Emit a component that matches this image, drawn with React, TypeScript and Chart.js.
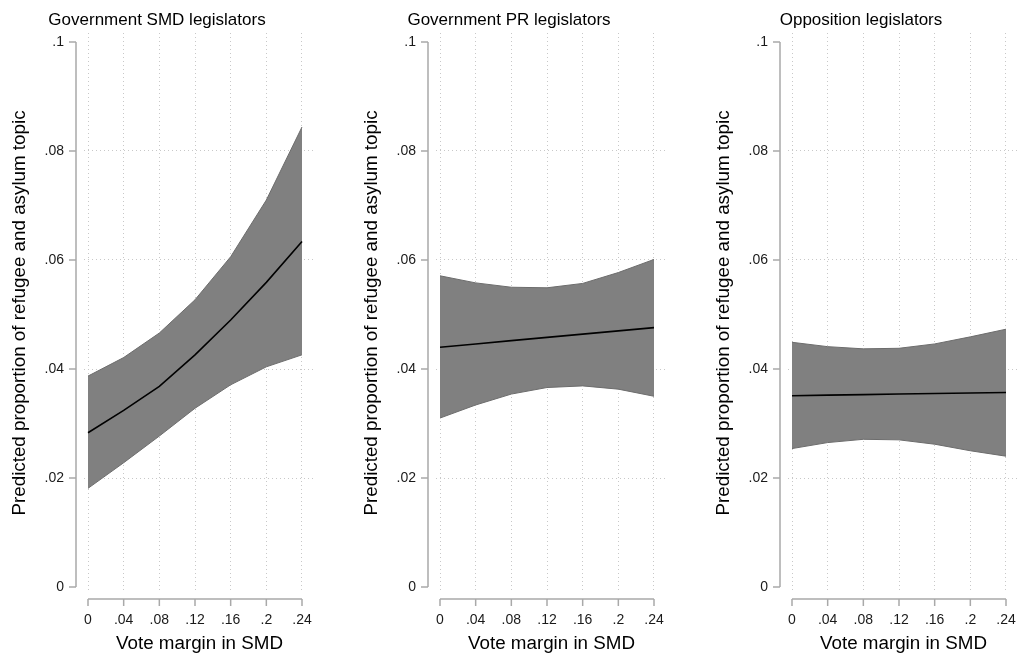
import React, { useEffect, useRef } from 'react';
import { Chart, registerables } from 'chart.js';

Chart.register(...registerables);

// ---- data ----
const xValues = [0, 0.04, 0.08, 0.12, 0.16, 0.2, 0.24];
const xTickValues = [0, 0.04, 0.08, 0.12, 0.16, 0.2, 0.24];
const xTickLabels = ['0', '.04', '.08', '.12', '.16', '.2', '.24'];
const yTickValues = [0, 0.02, 0.04, 0.06, 0.08, 0.1];
const yTickLabels = ['0', '.02', '.04', '.06', '.08', '.1'];

const panelTitles = ['Government SMD legislators', 'Government PR legislators', 'Opposition legislators'];
const xAxisTitle = 'Vote margin in SMD';
const yAxisTitle = 'Predicted proportion of refugee and asylum topic';

const smdFit = [0.0283, 0.0324, 0.0368, 0.0426, 0.049, 0.0559, 0.0634];
const smdUpper = [0.0387, 0.0421, 0.0466, 0.0527, 0.0606, 0.071, 0.0844];
const smdLower = [0.0181, 0.0228, 0.0277, 0.0328, 0.0371, 0.0404, 0.0426];

const prFit = [0.044, 0.0446, 0.0452, 0.0458, 0.0464, 0.047, 0.0476];
const prUpper = [0.0571, 0.0558, 0.055, 0.0549, 0.0557, 0.0577, 0.0601];
const prLower = [0.031, 0.0334, 0.0354, 0.0366, 0.0369, 0.0363, 0.035];

const oppFit = [0.0351, 0.0352, 0.0353, 0.0354, 0.0355, 0.0356, 0.0357];
const oppUpper = [0.0449, 0.0441, 0.0437, 0.0438, 0.0446, 0.0459, 0.0473];
const oppLower = [0.0254, 0.0265, 0.0271, 0.027, 0.0262, 0.025, 0.024];

const panels = [
  { title: panelTitles[0], fit: smdFit, upper: smdUpper, lower: smdLower },
  { title: panelTitles[1], fit: prFit, upper: prUpper, lower: prLower },
  { title: panelTitles[2], fit: oppFit, upper: oppUpper, lower: oppLower },
];

const FONT = 'Liberation Sans, Arial, Helvetica, sans-serif';
const CANVAS_W = 352;
const CANVAS_H = 664;
const PANEL_STEP = 352;
const PANEL_OFFSET = -19;

const toPts = (arr: number[]) => xValues.map((x, i) => ({ x, y: arr[i] }));

const stataAxes = {
  id: 'stataAxes',
  afterDraw(chart: any) {
    const { ctx, chartArea } = chart;
    const xs = chart.scales.x;
    const ys = chart.scales.y;
    ctx.save();
    ctx.strokeStyle = '#a9a9a9';
    ctx.lineWidth = 1.5;
    // y axis
    const ax = chartArea.left - 8;
    ctx.beginPath();
    ctx.moveTo(ax, ys.getPixelForValue(yTickValues[0]));
    ctx.lineTo(ax, ys.getPixelForValue(yTickValues[yTickValues.length - 1]));
    yTickValues.forEach((v) => {
      const py = ys.getPixelForValue(v);
      ctx.moveTo(ax, py);
      ctx.lineTo(ax - 7, py);
    });
    // x axis
    const ay = chartArea.bottom + 6;
    ctx.moveTo(xs.getPixelForValue(xTickValues[0]), ay);
    ctx.lineTo(xs.getPixelForValue(xTickValues[xTickValues.length - 1]), ay);
    xTickValues.forEach((v) => {
      const px = xs.getPixelForValue(v);
      ctx.moveTo(px, ay);
      ctx.lineTo(px, ay + 7);
    });
    ctx.stroke();
    ctx.restore();
  },
};

function Panel({ idx }: { idx: number }) {
  const ref = useRef<HTMLCanvasElement | null>(null);
  useEffect(() => {
    const p = panels[idx];
    const chart = new Chart(ref.current as HTMLCanvasElement, {
      type: 'line',
      data: {
        datasets: [
          {
            data: toPts(p.fit),
            borderColor: '#000000',
            borderWidth: 1.6,
            pointRadius: 0,
            fill: false,
            tension: 0,
          },
          {
            data: toPts(p.upper),
            borderColor: '#6c6c6c',
            borderWidth: 1,
            backgroundColor: '#808080',
            pointRadius: 0,
            fill: '+1',
            tension: 0,
          },
          {
            data: toPts(p.lower),
            borderColor: '#6c6c6c',
            borderWidth: 1,
            pointRadius: 0,
            fill: false,
            tension: 0,
          },
        ],
      },
      options: {
        responsive: false,
        animation: false,
        events: [],
        layout: { padding: { left: 18, right: 18, top: 0, bottom: 0 } },
        plugins: {
          legend: { display: false },
          tooltip: { enabled: false },
          filler: { drawTime: 'beforeDatasetsDraw' },
          title: {
            display: true,
            text: p.title,
            color: '#000000',
            font: { family: FONT, size: 17, weight: 'normal' },
            padding: { top: 10, bottom: 2.6 },
          },
        },
        scales: {
          x: {
            type: 'linear',
            min: -0.00449,
            max: 0.25458,
            afterBuildTicks: (scale: any) => {
              scale.ticks = xTickValues.map((v) => ({ value: v }));
            },
            afterFit: (scale: any) => {
              scale.height = 71;
            },
            ticks: {
              autoSkip: false,
              maxRotation: 0,
              minRotation: 0,
              padding: 19,
              color: '#1a1a1a',
              font: { family: FONT, size: 14 },
              callback: (_v: any, i: number) => xTickLabels[i],
            },
            grid: {
              color: '#c8c8c8',
              lineWidth: 1,
              drawTicks: false,
            },
            border: { display: false, dash: [1, 3] },
            title: {
              display: true,
              text: xAxisTitle,
              color: '#000000',
              font: { family: FONT, size: 18.8 },
              padding: { top: 0, bottom: 8.5 },
            },
          },
          y: {
            type: 'linear',
            min: -0.0011,
            max: 0.10165,
            afterBuildTicks: (scale: any) => {
              scale.ticks = yTickValues.map((v) => ({ value: v }));
            },
            afterFit: (scale: any) => {
              scale.width = 85;
            },
            ticks: {
              autoSkip: false,
              padding: 20,
              color: '#1a1a1a',
              font: { family: FONT, size: 14 },
              callback: (_v: any, i: number) => yTickLabels[i],
            },
            grid: {
              color: (c: any) => {
                const v = c.tick ? c.tick.value : null;
                return v === yTickValues[0] || v === yTickValues[yTickValues.length - 1]
                  ? 'rgba(0,0,0,0)'
                  : '#c8c8c8';
              },
              lineWidth: 1,
              drawTicks: false,
            },
            border: { display: false, dash: [1, 3] },
            title: {
              display: true,
              text: yAxisTitle,
              color: '#000000',
              font: { family: FONT, size: 18.8 },
              padding: { top: 9.5, bottom: 0 },
            },
          },
        },
      } as any,
      plugins: [stataAxes],
    });
    return () => chart.destroy();
  }, [idx]);
  return (
    <canvas
      ref={ref}
      width={CANVAS_W}
      height={CANVAS_H}
      style={{
        position: 'absolute',
        top: 0,
        left: PANEL_OFFSET + PANEL_STEP * idx,
        width: CANVAS_W,
        height: CANVAS_H,
      }}
    />
  );
}

export default function App() {
  useEffect(() => {
    document.body.style.margin = '0';
    document.body.style.background = '#ffffff';
  }, []);
  return (
    <div
      style={{
        position: 'relative',
        width: 1021,
        height: 664,
        overflow: 'hidden',
        background: '#ffffff',
      }}
    >
      {panels.map((_, i) => (
        <Panel key={i} idx={i} />
      ))}
    </div>
  );
}
